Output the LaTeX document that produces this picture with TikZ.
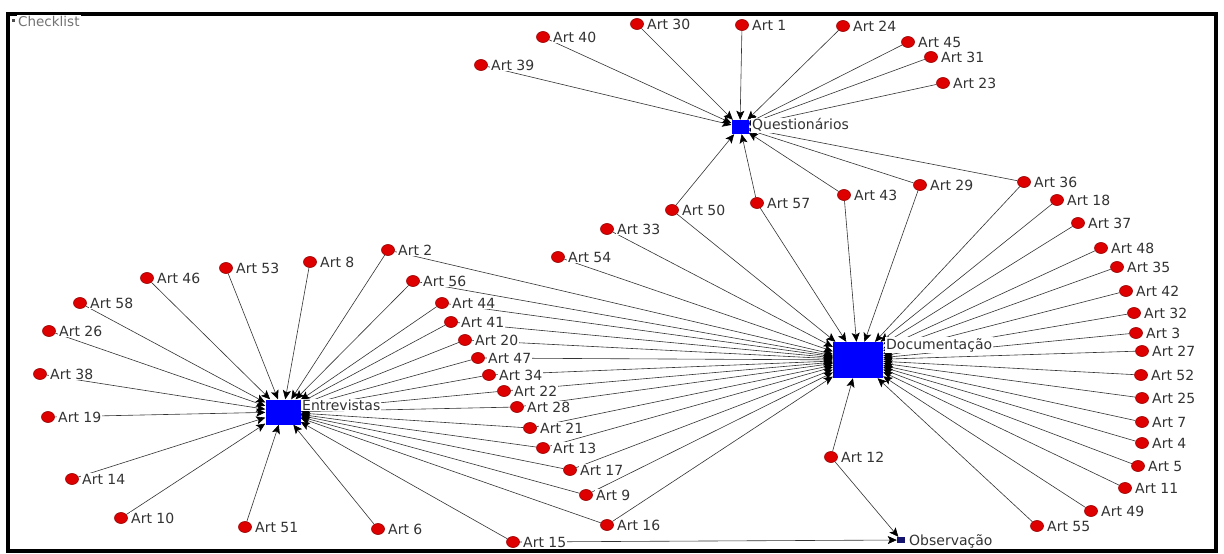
\documentclass[tikz,border=0pt]{standalone}
\usepackage{fontspec}
\setmainfont{DejaVu Sans}
\usetikzlibrary{arrows.meta,shapes.geometric}
\definecolor{dotred}{RGB}{222,0,0}
\definecolor{dotedge}{RGB}{150,0,0}
\definecolor{hubblue}{RGB}{0,0,255}
\definecolor{obsblue}{RGB}{20,20,110}
\pgfdeclarelayer{bglayer}
\pgfdeclarelayer{edgelayer}
\pgfsetlayers{bglayer,edgelayer,main}
\begin{document}
\begin{tikzpicture}[x=1pt,y=-1pt,
  art/.style={ellipse, minimum width=13pt, minimum height=11pt, inner sep=0pt, fill=dotred, draw=dotedge, line width=0.6pt},
  hub/.style={rectangle, inner sep=0pt, fill=hubblue},
  lbl/.style={anchor=west, font=\fontsize{14}{14}\selectfont, text=black!80, fill=white, inner sep=1pt},
  edge/.style={draw=black!80, line width=0.6pt, -{Stealth[length=9pt,width=8pt,inset=2pt,color=black]}}]
\useasboundingbox (0,0) rectangle (1224,554);
\begin{pgfonlayer}{bglayer}
\fill[white] (0,0) rectangle (1224,554);
\end{pgfonlayer}
\draw[line width=4pt] (8,14) rectangle (1216,551);

% hubs
\node[hub, minimum width=17pt, minimum height=14pt] (Q) at (740,127) {};
\node[hub, minimum width=50pt, minimum height=36pt] (D) at (858,360) {};
\node[hub, minimum width=35pt, minimum height=25pt] (E) at (283,412) {};
\node[rectangle, inner sep=0pt, fill=obsblue, minimum width=8pt, minimum height=6pt] (O) at (901,540) {};
\node[rectangle, inner sep=0pt, fill=black!70, minimum width=3pt, minimum height=3pt] (C) at (13,20) {};

% article nodes
\foreach \n/\x/\y in {1/742/25, 2/388/250, 3/1136/333, 4/1142/443, 5/1138/466, 6/378/529, 7/1142/422, 8/310/262, 9/586/495, 10/121/518, 11/1125/488, 12/831/457, 13/543/448, 14/72/479, 15/513/542, 16/607/525, 17/570/470, 18/1057/200, 19/48/417, 20/465/340, 21/530/428, 22/504/391, 23/943/83, 24/843/26, 25/1142/398, 26/49/331, 27/1142/351, 28/517/407, 29/920/185, 30/637/24, 31/931/57, 32/1134/313, 33/607/229, 34/489/375, 35/1117/267, 36/1024/182, 37/1078/223, 38/40/374, 39/481/65, 40/543/37, 41/451/322, 42/1126/291, 43/844/195, 44/442/303, 45/908/42, 46/147/278, 47/478/358, 48/1101/248, 49/1091/511, 50/672/210, 51/245/527, 52/1141/375, 53/226/268, 54/558/257, 55/1037/526, 56/413/281, 57/757/203, 58/80/303}
  {\node[art] (a\n) at (\x,\y) {};}

% edges
\begin{pgfonlayer}{edgelayer}
\foreach \n in {39,40,30,1,24,45,31,23,36,29,43,57,50}
  {\draw[edge] (a\n) -- (Q);}
\foreach \n in {33,50,57,43,29,36,18,37,48,35,42,32,3,27,52,25,7,4,5,11,49,55,12,16,9,17,13,21,28,22,34,47,20,41,44,56,2,54}
  {\draw[edge] (a\n) -- (D);}
\foreach \n in {46,53,8,58,26,38,19,14,10,51,6,15,2,56,44,41,20,47,34,22,28,21,13,17,9,16}
  {\draw[edge] (a\n) -- (E);}
\foreach \n in {12,15}
  {\draw[edge] (a\n) -- (O);}
\end{pgfonlayer}

% article labels
\foreach \n in {1,...,58}
  {\node[lbl] (l\n) at ([xshift=9pt]a\n.center) {Art \n};}

% hub labels
\node[lbl] (lQ) at (751,125) {Questionários};
\node[lbl] (lD) at (885,345) {Documentação};
\node[lbl] (lE) at (301,405) {Entrevistas};
\node[lbl] (lO) at (908,541) {Observação};
\node[lbl, text=black!55, font=\fontsize{13.5}{13.5}\selectfont] (lC) at (17,21) {Checklist};
\end{tikzpicture}
\end{document}
